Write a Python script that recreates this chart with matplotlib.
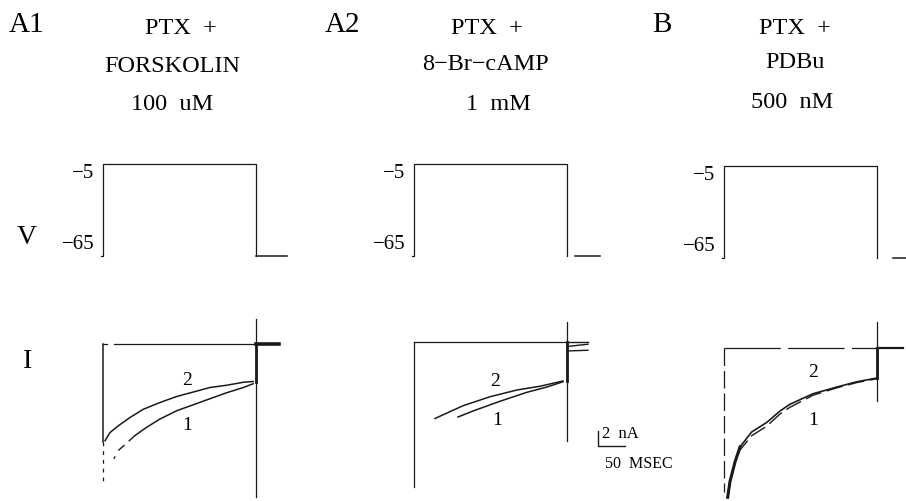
import matplotlib.pyplot as plt

plt.rcParams['font.family'] = ['Liberation Serif', 'DejaVu Serif']

W, H = 906, 502
K_T = 0.54        # px per ms
K_V = 92 / 60     # px per mV
K_I = 7.5         # px per nA
INK = '#1a1a1a'

STEP_MS = 283

# voltage protocol (ms, mV)
v_time = [-4, 0, 0, STEP_MS, STEP_MS]
v_vals = [-65, -65, -5, -5, -65]
v_ticks = [-5, -65]
tail_time = {'A1': [STEP_MS, 341], 'A2': [298, 344], 'B': [313, 338]}

# current traces (ms, nA)
a1_t2 = [3.7, 13, 28.4, 50, 74.7, 105.6, 136.4, 167.3, 198, 229, 260, 278]
a1_i2 = [-12.9, -11.8, -10.9, -9.8, -8.7, -7.8, -7.0, -6.4, -5.8, -5.5, -5.1, -5.0]
a1_t1 = [20, 28.4, 59.3, 80.9, 105.6, 136.4, 167.3, 198, 229, 260, 278]
a1_i1 = [-15.3, -14.2, -12.2, -11.1, -10.0, -8.9, -8.1, -7.3, -6.5, -5.8, -5.3]

a2_t2 = [38.9, 90.7, 140.7, 190.7, 233.3, 275.9]
a2_i2 = [-10.2, -8.5, -7.3, -6.4, -5.9, -5.2]
a2_t1 = [81.5, 109.3, 159.3, 209.3, 246.3, 275.9]
a2_i1 = [-10.0, -9.2, -7.9, -6.7, -6.0, -5.3]
a2_fan_t = [STEP_MS, 322]
a2_fan_i = [[0, 0], [-0.6, -0.3], [-1.2, -1.1]]

b_t = [6.8, 11.1, 20.4, 29.6, 51.2, 79.6, 103.7, 122.2, 164.8, 209.3, 246.3, 283]
b_i2 = [-19.9, -17.8, -15.2, -13.2, -11.2, -9.9, -8.4, -7.5, -6.1, -5.2, -4.5, -4.0]
b_i1 = [-19.9, -17.8, -15.3, -13.6, -11.7, -10.4, -8.8, -7.9, -6.3, -5.3, -4.6, -4.1]

# column geometry in px: step onset x, y of -5 mV, y of 0 nA
cols = {'A1': (103, 165, 345), 'A2': (414, 165, 343), 'B': (724, 167, 349)}

XLIM = (-30, 360)
VLIM = (-75, 5)
ILIM = (-22, 4)


def make_ax(fig, x0, y_ref, ref_val, ylim, k_y):
    left = x0 + XLIM[0] * K_T
    width = (XLIM[1] - XLIM[0]) * K_T
    top = y_ref - (ylim[1] - ref_val) * k_y
    height = (ylim[1] - ylim[0]) * k_y
    ax = fig.add_axes([left / W, 1 - (top + height) / H, width / W, height / H])
    ax.set_xlim(*XLIM)
    ax.set_ylim(*ylim)
    ax.axis('off')
    return ax


fig = plt.figure(figsize=(W / 100, H / 100), dpi=100)

lw = 0.9
for name, (x0, yv, yb) in cols.items():
    av = make_ax(fig, x0, yv, -5, VLIM, K_V)
    av.plot(v_time, v_vals, color=INK, lw=lw)
    av.plot(tail_time[name], [-65, -65], color=INK, lw=1.1)
    av.text(-16, -10.5, '\u22125', ha='right', va='center', fontsize=15)
    av.text(-16, -57, '\u221265', ha='right', va='center', fontsize=15)

    ai = make_ax(fig, x0, yb, 0, ILIM, K_I)
    if name == 'A1':
        ai.plot([0, 8], [0, 0], color=INK, lw=lw)
        ai.plot([20, STEP_MS], [0, 0], color=INK, lw=lw)
        ai.plot([0, 0], [0, -13], color=INK, lw=1.1)
        ai.plot([0, 0], [-13, -18.6], color=INK, lw=lw, ls=(0, (3, 4)))
        ai.plot([STEP_MS, STEP_MS], [3.3, -20.4], color=INK, lw=lw)
        ai.plot([STEP_MS, STEP_MS], [0, -5], color=INK, lw=2)
        ai.plot([STEP_MS, 326], [0, 0], color=INK, lw=2.6)
        ai.plot(a1_t2, a1_i2, color=INK, lw=1.1)
        ai.plot(a1_t1[:2], a1_i1[:2], color=INK, lw=1.0, ls=(0, (2, 5)))
        ai.plot(a1_t1[2:], a1_i1[2:], color=INK, lw=1.1)
        ai.plot(a1_t1[1:3], a1_i1[1:3], color=INK, lw=1.0, ls=(0, (6, 4)))
        ai.text(155, -4.7, '2', ha='center', va='center', fontsize=14)
        ai.text(155, -10.8, '1', ha='center', va='center', fontsize=14)
    elif name == 'A2':
        ai.plot([0, STEP_MS], [0, 0], color=INK, lw=lw)
        ai.plot([0, 0], [0, -19.3], color=INK, lw=lw)
        ai.plot([STEP_MS, STEP_MS], [2.7, -13.2], color=INK, lw=lw)
        ai.plot([STEP_MS, STEP_MS], [0, -5.2], color=INK, lw=2)
        for fan in a2_fan_i:
            ai.plot(a2_fan_t, fan, color=INK, lw=1.0)
        ai.plot(a2_t2, a2_i2, color=INK, lw=1.1)
        ai.plot(a2_t1, a2_i1, color=INK, lw=1.1)
        ai.text(150, -5.1, '2', ha='center', va='center', fontsize=14)
        ai.text(154, -10.3, '1', ha='center', va='center', fontsize=14)
        # scale bar
        ai.plot([341, 341, 391], [-11.9, -13.9, -13.9], color=INK, lw=1.0,
                clip_on=False)
        ai.text(348, -12.1, '2  nA', ha='left', va='center', fontsize=12)
        ai.text(354, -16.1, '50  MSEC', ha='left', va='center', fontsize=11.5)
    else:
        ai.plot([0, STEP_MS], [0, 0], color=INK, lw=lw, ls=(0, (45, 6)))
        ai.plot([0, 0], [0, -19.2], color=INK, lw=lw, ls=(0, (14, 4)))
        ai.plot([STEP_MS, STEP_MS], [3.5, -7.1], color=INK, lw=lw)
        ai.plot([STEP_MS, STEP_MS], [0, -4.0], color=INK, lw=2)
        ai.plot([STEP_MS, 331], [0, 0], color=INK, lw=1.6)
        ai.plot(b_t, b_i2, color=INK, lw=1.2)
        ai.plot(b_t, b_i1, color=INK, lw=1.0, ls=(0, (12, 4)))
        ai.plot(b_t[:4], b_i2[:4], color=INK, lw=2.2)
        ai.text(165, -3.2, '2', ha='center', va='center', fontsize=14)
        ai.text(165, -9.5, '1', ha='center', va='center', fontsize=14)


def ftext(x, y, s, **kw):
    fig.text(x / W, 1 - y / H, s, ha='center', va='center', **kw)


# panel letters
ftext(27, 25, 'A1', fontsize=21)
ftext(342, 25, 'A2', fontsize=21)
ftext(662, 25, 'B', fontsize=21)

# titles
titles = {
    'A1': (['PTX  +', 'FORSKOLIN', '100  uM'], [181, 172, 172], [28, 67, 105]),
    'A2': (['PTX  +', '8\u2212Br\u2212cAMP', '1  mM'], [487, 486, 498], [28, 65, 105]),
    'B': (['PTX  +', 'PDBu', '500  nM'], [795, 795, 792], [28, 62, 102]),
}
for name, (lines, xs, ys) in titles.items():
    for s, x, y in zip(lines, xs, ys):
        ftext(x, y, s, fontsize=17.5)

ftext(27, 238, 'V', fontsize=20)
ftext(28, 362, 'I', fontsize=20)

fig.savefig('out.png', dpi=100)
